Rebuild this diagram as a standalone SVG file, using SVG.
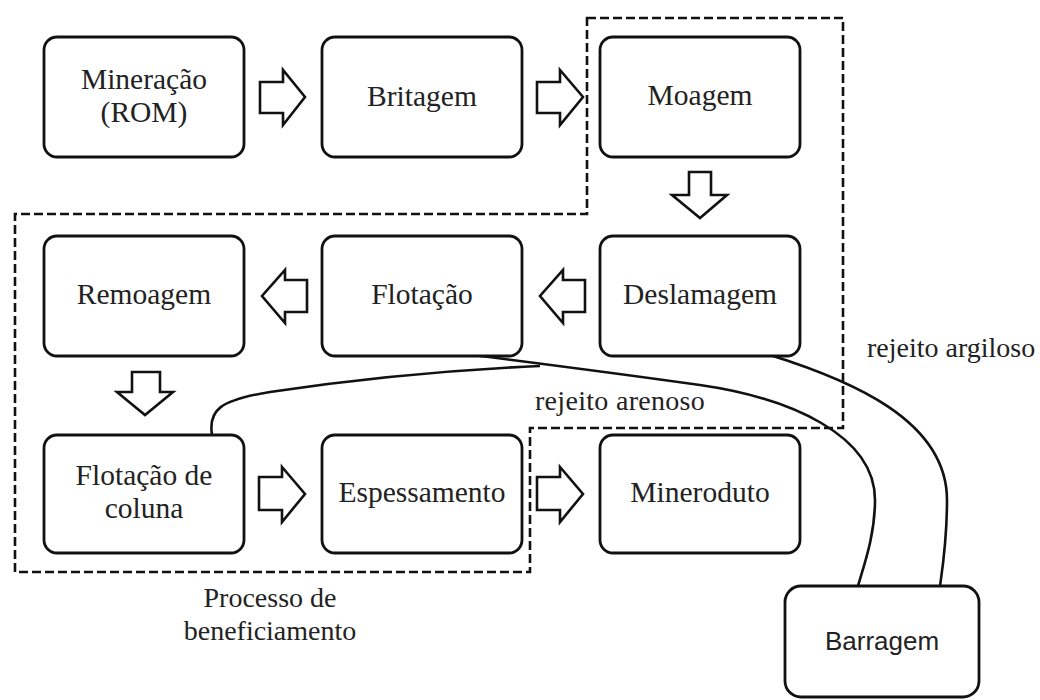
<svg xmlns="http://www.w3.org/2000/svg" width="1040" height="700" viewBox="0 0 1040 700">
<style>
.box{fill:#fff;stroke:#111;stroke-width:2.8}
.t{font-family:"Liberation Serif","Times New Roman",serif;font-size:29.5px;fill:#222;text-anchor:middle}
.ts{font-family:"Liberation Sans",Arial,sans-serif;font-size:26px;fill:#222;text-anchor:middle}
.lbl{font-family:"Liberation Serif","Times New Roman",serif;font-size:28px;fill:#222}
.arr{fill:#fff;stroke:#111;stroke-width:2.6;stroke-linejoin:miter}
.ln{fill:none;stroke:#111;stroke-width:2.6}
.dash{fill:none;stroke:#111;stroke-width:2.6;stroke-dasharray:9 4}
</style>
<rect width="1040" height="700" fill="#fff"/>
<g id="boundary">
<path class="dash" d="M587,18 H843 V428 H530 V572 H15 V214 H587 Z"/>
<text class="lbl" x="270" y="607" text-anchor="middle" font-size="29.5">Processo de</text>
<text class="lbl" x="270" y="640" text-anchor="middle" font-size="29.5">beneficiamento</text>
</g>
<g id="connectors">
<polygon class="arr" points="260,82 283,82 283,70 305,97 283,125 283,113 260,113"/>
<polygon class="arr" points="537,82 560,82 560,70 583,97 560,125 560,113 537,113"/>
<polygon class="arr" points="689,172 711,172 711,195 727,195 700,218 672,195 689,195"/>
<polygon class="arr" points="585,280 563,280 563,270 540,296 563,323 563,312 585,312"/>
<polygon class="arr" points="307,280 285,280 285,270 262,296 285,323 285,312 307,312"/>
<polygon class="arr" points="132,372 160,372 160,392 173,392 145,415 117,392 132,392"/>
<polygon class="arr" points="259,477 282,477 282,467 305,494 282,522 282,510 259,510"/>
<polygon class="arr" points="537,477 560,477 560,467 583,494 560,522 560,510 537,510"/>
<path class="ln" d="M473,355 C520,361 600,371 700,385 C790,398 875,435 875,500 C875,535 864,565 858,586"/>
<path class="ln" d="M212,435 C208,410 220,400 270,392 C350,380 450,370 540,366"/>
<path class="ln" d="M770,355 C850,380 947,420 947,500 C947,540 943,565 940,586"/>
<text class="lbl" x="535" y="410" letter-spacing="0.3">rejeito arenoso</text>
<text class="lbl" x="867" y="357">rejeito argiloso</text>
</g>
<g id="mineracao"><rect class="box" x="44" y="37" width="200" height="120" rx="13"/><text class="t" x="144" y="89">Mineração</text><text class="t" x="144" y="122">(ROM)</text></g>
<g id="britagem"><rect class="box" x="322" y="37" width="200" height="120" rx="13"/><text class="t" x="422" y="106">Britagem</text></g>
<g id="moagem"><rect class="box" x="600" y="37" width="200" height="120" rx="13"/><text class="t" x="700" y="105">Moagem</text></g>
<g id="remoagem"><rect class="box" x="44" y="236" width="200" height="120" rx="13"/><text class="t" x="144" y="304">Remoagem</text></g>
<g id="flotacao"><rect class="box" x="322" y="236" width="200" height="120" rx="13"/><text class="t" x="422" y="304">Flotação</text></g>
<g id="deslamagem"><rect class="box" x="600" y="236" width="200" height="120" rx="13"/><text class="t" x="700" y="304">Deslamagem</text></g>
<g id="flotacao-coluna"><rect class="box" x="44" y="435" width="200" height="118" rx="13"/><text class="t" x="144" y="485">Flotação de</text><text class="t" x="144" y="518">coluna</text></g>
<g id="espessamento"><rect class="box" x="322" y="435" width="200" height="118" rx="13"/><text class="t" x="422" y="502">Espessamento</text></g>
<g id="mineroduto"><rect class="box" x="600" y="435" width="200" height="118" rx="13"/><text class="t" x="700" y="502">Mineroduto</text></g>
<g id="barragem"><rect class="box" x="785" y="586" width="194" height="111" rx="16"/><text class="ts" x="882" y="650">Barragem</text></g>
</svg>
